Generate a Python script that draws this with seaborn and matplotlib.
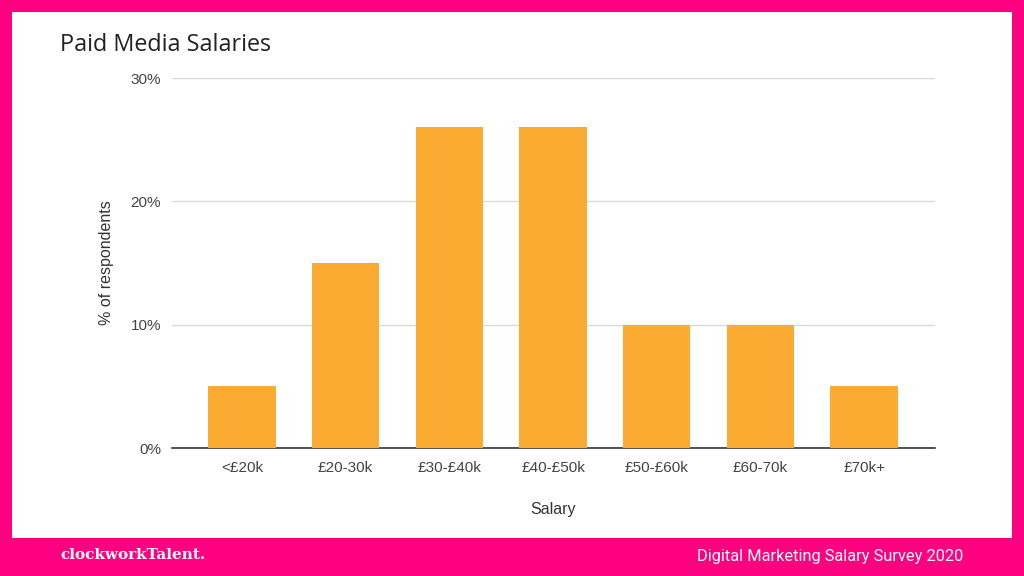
import pandas as pd
import matplotlib.pyplot as plt
import seaborn as sns
from matplotlib.patches import Rectangle

# Chart data
salary_bands = ["<£20k", "£20-30k", "£30-£40k", "£40-£50k", "£50-£60k", "£60-70k", "£70k+"]
respondents_pct = [5, 15, 26, 26, 10, 10, 5]
y_ticks = [0, 10, 20, 30]

pink = "#FF0080"
orange = "#FBAB31"

data = pd.DataFrame({"Salary": salary_bands, "Pct": respondents_pct})

sns.set_theme(style="white")
plt.rcParams["font.family"] = ["Liberation Sans", "DejaVu Sans"]

fig = plt.figure(figsize=(10.24, 5.76), dpi=100, facecolor=pink)

# white card inside the pink frame
fig.patches.append(Rectangle((12 / 1024, 38 / 576), 1000 / 1024, 526 / 576,
                             transform=fig.transFigure, facecolor="white",
                             edgecolor="none", zorder=-10))

ax = fig.add_axes([172 / 1024, 128 / 576, 763 / 1024, 370 / 576])
ax.set_facecolor("none")

sns.barplot(data=data, x="Salary", y="Pct", color=orange, width=0.65,
            saturation=1, edgecolor="none", linewidth=0, ax=ax, zorder=3)

ax.set_xlim(-0.674, 6.683)
ax.set_ylim(0, 30)
ax.set_yticks(y_ticks)
ax.set_yticklabels([f"{t}%" for t in y_ticks])
ax.yaxis.grid(True, color="#D9D9D9", linewidth=1)
ax.set_axisbelow(True)

for side in ["top", "right", "left"]:
    ax.spines[side].set_visible(False)
ax.spines["bottom"].set_color("#333333")
ax.spines["bottom"].set_linewidth(1.2)

ax.tick_params(axis="both", length=0, labelsize=11, labelcolor="#444444")
ax.tick_params(axis="x", pad=9)
ax.tick_params(axis="y", pad=8)

ax.set_xlabel("Salary", fontsize=11.5, color="#333333", labelpad=20)
ax.set_ylabel("% of respondents", fontsize=11.5, color="#333333", labelpad=12)

fig.text(60 / 1024, 1 - 45 / 576, "Paid Media Salaries", fontsize=16.8,
         family=["Open Sans", "DejaVu Sans"], color="#222222", va="center", ha="left")

# footer
fig.text(60 / 1024, 1 - 555 / 576, "clockworkTalent.", fontsize=11,
         family=["DejaVu Serif"], fontweight="bold", color="white",
         va="center", ha="left")
fig.text(963 / 1024, 1 - 556 / 576, "Digital Marketing Salary Survey 2020",
         fontsize=11.8, family=["Roboto", "DejaVu Sans"], color="white",
         va="center", ha="right")

fig.savefig("out.png", dpi=100, facecolor=pink)
